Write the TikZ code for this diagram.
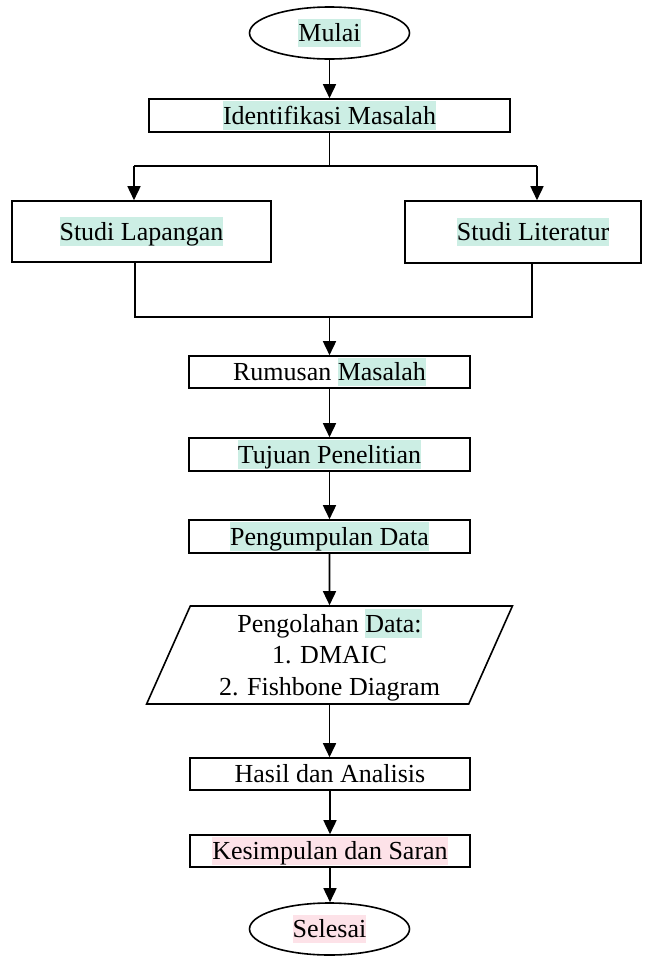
\documentclass[tikz,border=0pt]{standalone}
\usepackage{fontspec}
\setmainfont{Liberation Serif}
\usetikzlibrary{arrows.meta,shapes.geometric}
\definecolor{mint}{RGB}{204,238,228}
\definecolor{pinkhl}{RGB}{253,226,232}
\newcommand{\hlstrut}{\rule[-0.216em]{0pt}{1.107em}}
\newcommand{\hlm}[1]{{\setlength{\fboxsep}{0pt}\colorbox{mint}{\hlstrut #1}}}
\newcommand{\hlp}[1]{{\setlength{\fboxsep}{0pt}\colorbox{pinkhl}{\hlstrut #1}}}
\newcommand{\nohl}[1]{\hlstrut #1}
\begin{document}
\begin{tikzpicture}[x=1pt,y=-1pt,
  every node/.style={font=\fontsize{26}{31.5}\selectfont, inner sep=0pt},
  box/.style={draw, line width=1.6pt, minimum width=281pt, minimum height=33pt},
  term/.style={draw, ellipse, line width=1.6pt, minimum width=160pt, minimum height=52pt},
  io/.style={draw, trapezium, trapezium left angle=69.3, trapezium right angle=110.7,
    trapezium stretches=true, minimum width=367pt, minimum height=98pt,
    align=center, line width=1.6pt},
  conn/.style={line width=1.6pt},
  arr/.style={line width=1.6pt, -{Triangle[length=14pt,width=13pt]}}]
\useasboundingbox (0,0) rectangle (651,956);

\node[term] (mulai) at (329.5,33) {\hlm{Mulai}};
\node[box, minimum width=361pt] (idm) at (329.5,115.5) {\hlm{Identifikasi Masalah}};
\node[box, minimum width=259pt, minimum height=61pt] (sl) at (141.5,231.5) {\hlm{Studi Lapangan}};
\node[box, minimum width=236pt, minimum height=62pt] (slit) at (523,232) {\hspace*{20pt}\hlm{Studi Literatur}};
\node[box, minimum height=32pt] (rm) at (329.5,372) {\hlstrut Rumusan \hlm{Masalah}};
\node[box] (tp) at (329.5,454.5) {\hlm{Tujuan Penelitian}};
\node[box] (pgd) at (329.5,536.5) {\hlm{Pengumpulan Data}};
\node[io] (pod) at (329.5,655) {\hlstrut Pengolahan \hlm{Data:}\\\nohl{1. DMAIC}\\\nohl{2. Fishbone Diagram}};
\node[box, minimum width=280pt, minimum height=32pt] (ha) at (330,774) {\nohl{Hasil dan Analisis}};
\node[box, minimum width=280pt, minimum height=32pt] (ks) at (330,851) {\hlp{Kesimpulan dan Saran}};
\node[term] (sel) at (329.5,929) {\hlp{Selesai}};

\draw[arr] (mulai.south) -- (idm.north);

\coordinate (jc) at (329.5,166);
\coordinate (jl) at (134,166);
\coordinate (jr) at (537,166);
\draw[conn] (idm.south) -- (jc);
\draw[conn] (jl) -- (jr);
\draw[arr] (jl) -- (jl |- sl.north);
\draw[arr] (jr) -- (jr |- slit.north);

\coordinate (ml) at (135,317);
\coordinate (mr) at (532,317);
\draw[conn] (ml |- sl.south) -- (ml) -- (mr) -- (mr |- slit.south);
\draw[arr] (rm.north |- ml) -- (rm.north);

\draw[arr] (rm.south) -- (tp.north);
\draw[arr] (tp.south) -- (pgd.north);
\draw[arr] (pgd.south) -- (pod.north);
\draw[arr] (pod.south) -- (pod.south |- ha.north);
\draw[arr] (ha.south) -- (ks.north);
\draw[arr] (ks.south) -- (ks.south |- sel.north);
\end{tikzpicture}
\end{document}
